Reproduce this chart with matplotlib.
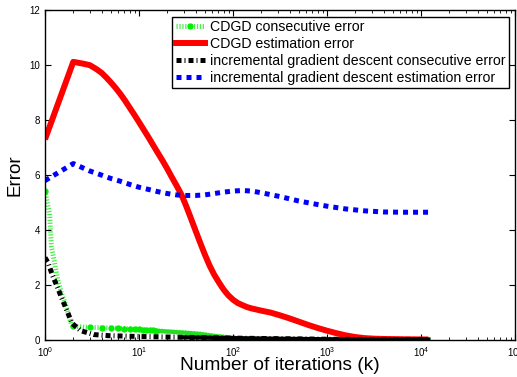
import numpy as np
import matplotlib
matplotlib.use("Agg")
import matplotlib.pyplot as plt
from matplotlib.lines import Line2D

plt.rcParams['font.family'] = ['Liberation Sans', 'DejaVu Sans']
plt.rcParams['mathtext.default'] = 'regular'

# iterations (k) and errors
x_cdgd_est = [1, 2, 2.5, 3, 3.55, 4, 4.47, 5, 5.62, 6.31, 7.08, 7.94, 8.91, 10, 11.2,
              12.6, 14.1, 15.8, 17.8, 20, 22.4, 25.1, 28.2, 31.6, 35.5, 39.8, 44.7,
              50.1, 56.2, 63.1, 70.8, 79.4, 89.1, 100, 112, 126, 141, 158, 200, 251,
              316, 398, 501, 631, 794, 1000, 1259, 1585, 1995, 2512, 3162, 3981, 6310,
              12000]
cdgd_est = [7.3, 10.12, 10.06, 10.0, 9.85, 9.72, 9.56, 9.38, 9.18, 8.96, 8.72, 8.46,
            8.2, 7.93, 7.66, 7.38, 7.1, 6.82, 6.53, 6.23, 5.92, 5.62, 5.3, 4.9, 4.45,
            4.0, 3.55, 3.12, 2.72, 2.38, 2.1, 1.84, 1.63, 1.47, 1.35, 1.27, 1.2, 1.15,
            1.07, 1.0, 0.9, 0.79, 0.67, 0.55, 0.44, 0.34, 0.25, 0.17, 0.11, 0.07, 0.05,
            0.04, 0.03, 0.02]

x_igd_est = [1, 2, 3, 4, 5, 6.3, 8, 10, 12.6, 15.8, 20, 25, 31.6, 40, 50, 63, 79, 100,
             126, 158, 200, 316, 500, 794, 1000, 1585, 2512, 3981, 6310, 12000]
igd_est = [5.8, 6.42, 6.15, 6.0, 5.88, 5.78, 5.66, 5.56, 5.48, 5.4, 5.33, 5.28, 5.26,
           5.26, 5.28, 5.33, 5.38, 5.42, 5.44, 5.42, 5.36, 5.22, 5.06, 4.93, 4.87,
           4.77, 4.7, 4.66, 4.65, 4.65]

x_cdgd_con = [1, 1.06, 1.12, 1.17, 1.25, 1.37, 1.5, 1.69, 1.9, 2, 3, 4, 5, 6, 7, 8, 9,
              10, 11, 12, 13, 14, 15, 20, 30, 45, 63, 100, 160, 300, 1000, 12000]
cdgd_con = [5.42, 5.0, 4.6, 3.4, 2.9, 2.18, 1.7, 1.21, 0.6, 0.5, 0.46, 0.45, 0.44,
            0.43, 0.42, 0.41, 0.40, 0.39, 0.38, 0.37, 0.36, 0.35, 0.34, 0.31, 0.27,
            0.22, 0.15, 0.08, 0.03, 0.01, 0.01, 0.01]

x_igd_con = [1, 1.08, 1.2, 1.35, 1.51, 1.71, 1.94, 2.4, 3.3, 4.7, 10, 30, 100, 300,
             1000, 3000, 12000]
igd_con = [3.0, 2.81, 2.36, 1.94, 1.52, 1.07, 0.61, 0.34, 0.2, 0.16, 0.13, 0.1, 0.07,
           0.05, 0.03, 0.02, 0.02]

labels = ['CDGD consecutive error', 'CDGD estimation error',
          'incremental gradient descent consecutive error',
          'incremental gradient descent estimation error']

fig = plt.figure(figsize=(5.17, 3.77), dpi=100)
ax = fig.add_axes([0.087, 0.098, 0.909, 0.875])

green_ls = (0, (0.25, 0.35))
black_ls = (0, (1.0, 0.6, 0.2, 0.6))
blue_ls = (0, (1.0, 1.0))

gx = np.array(x_cdgd_con)
gy = np.array(cdgd_con)
ax.plot(gx, gy, color='#44ee44', lw=3.5, linestyle=green_ls)
tail = gx >= 15
ax.plot(gx[tail], gy[tail], color='#22dd22', lw=3)
dots = (gx == np.round(gx)) & (gx <= 15)
ax.plot(gx[dots], gy[dots], linestyle='none', marker='o', ms=3.5, color='#00ee00')

ax.plot(x_cdgd_est, cdgd_est, color='#ff0000', lw=4.3, solid_capstyle='butt',
        solid_joinstyle='round')

bx = np.array(x_igd_con)
by = np.array(igd_con)
ax.plot(bx, by, color='black', lw=3.6, linestyle=black_ls)
btail = bx >= 30
ax.plot(bx[btail], by[btail], color='black', lw=3)

ax.plot(x_igd_est, igd_est, color='#0000ff', lw=3.6, linestyle=blue_ls)

handles = [
    Line2D([], [], color='#44ee44', lw=3.5, linestyle=green_ls, marker='o',
           ms=3.5, mfc='#00ee00', mec='#00ee00'),
    Line2D([], [], color='#ff0000', lw=4.3),
    Line2D([], [], color='black', lw=3.6, linestyle=black_ls),
    Line2D([], [], color='#0000ff', lw=3.6, linestyle=blue_ls),
]
leg = ax.legend(handles, labels, loc='upper right', fontsize=10.2, frameon=True,
                fancybox=False, framealpha=1, edgecolor='black', borderpad=0.25,
                labelspacing=0.2, handlelength=2.1, handletextpad=0.3,
                borderaxespad=0.45, numpoints=1)
leg.get_frame().set_linewidth(1.0)

ax.set_xscale('log')
ax.set_xlim(1, 1e5)
ax.set_ylim(0, 12)
ax.set_yticks([0, 2, 4, 6, 8, 10, 12])
ax.tick_params(which='both', direction='in', top=True, right=True, labelsize=7)
ax.tick_params(which='major', length=4)
ax.tick_params(which='minor', length=2)
for s in ax.spines.values():
    s.set_linewidth(1.0)

ax.set_xlabel('Number of iterations (k)', fontsize=13.8, labelpad=-1)
ax.set_ylabel('Error', fontsize=13.5, labelpad=4)

fig.savefig('out.png', dpi=100)
